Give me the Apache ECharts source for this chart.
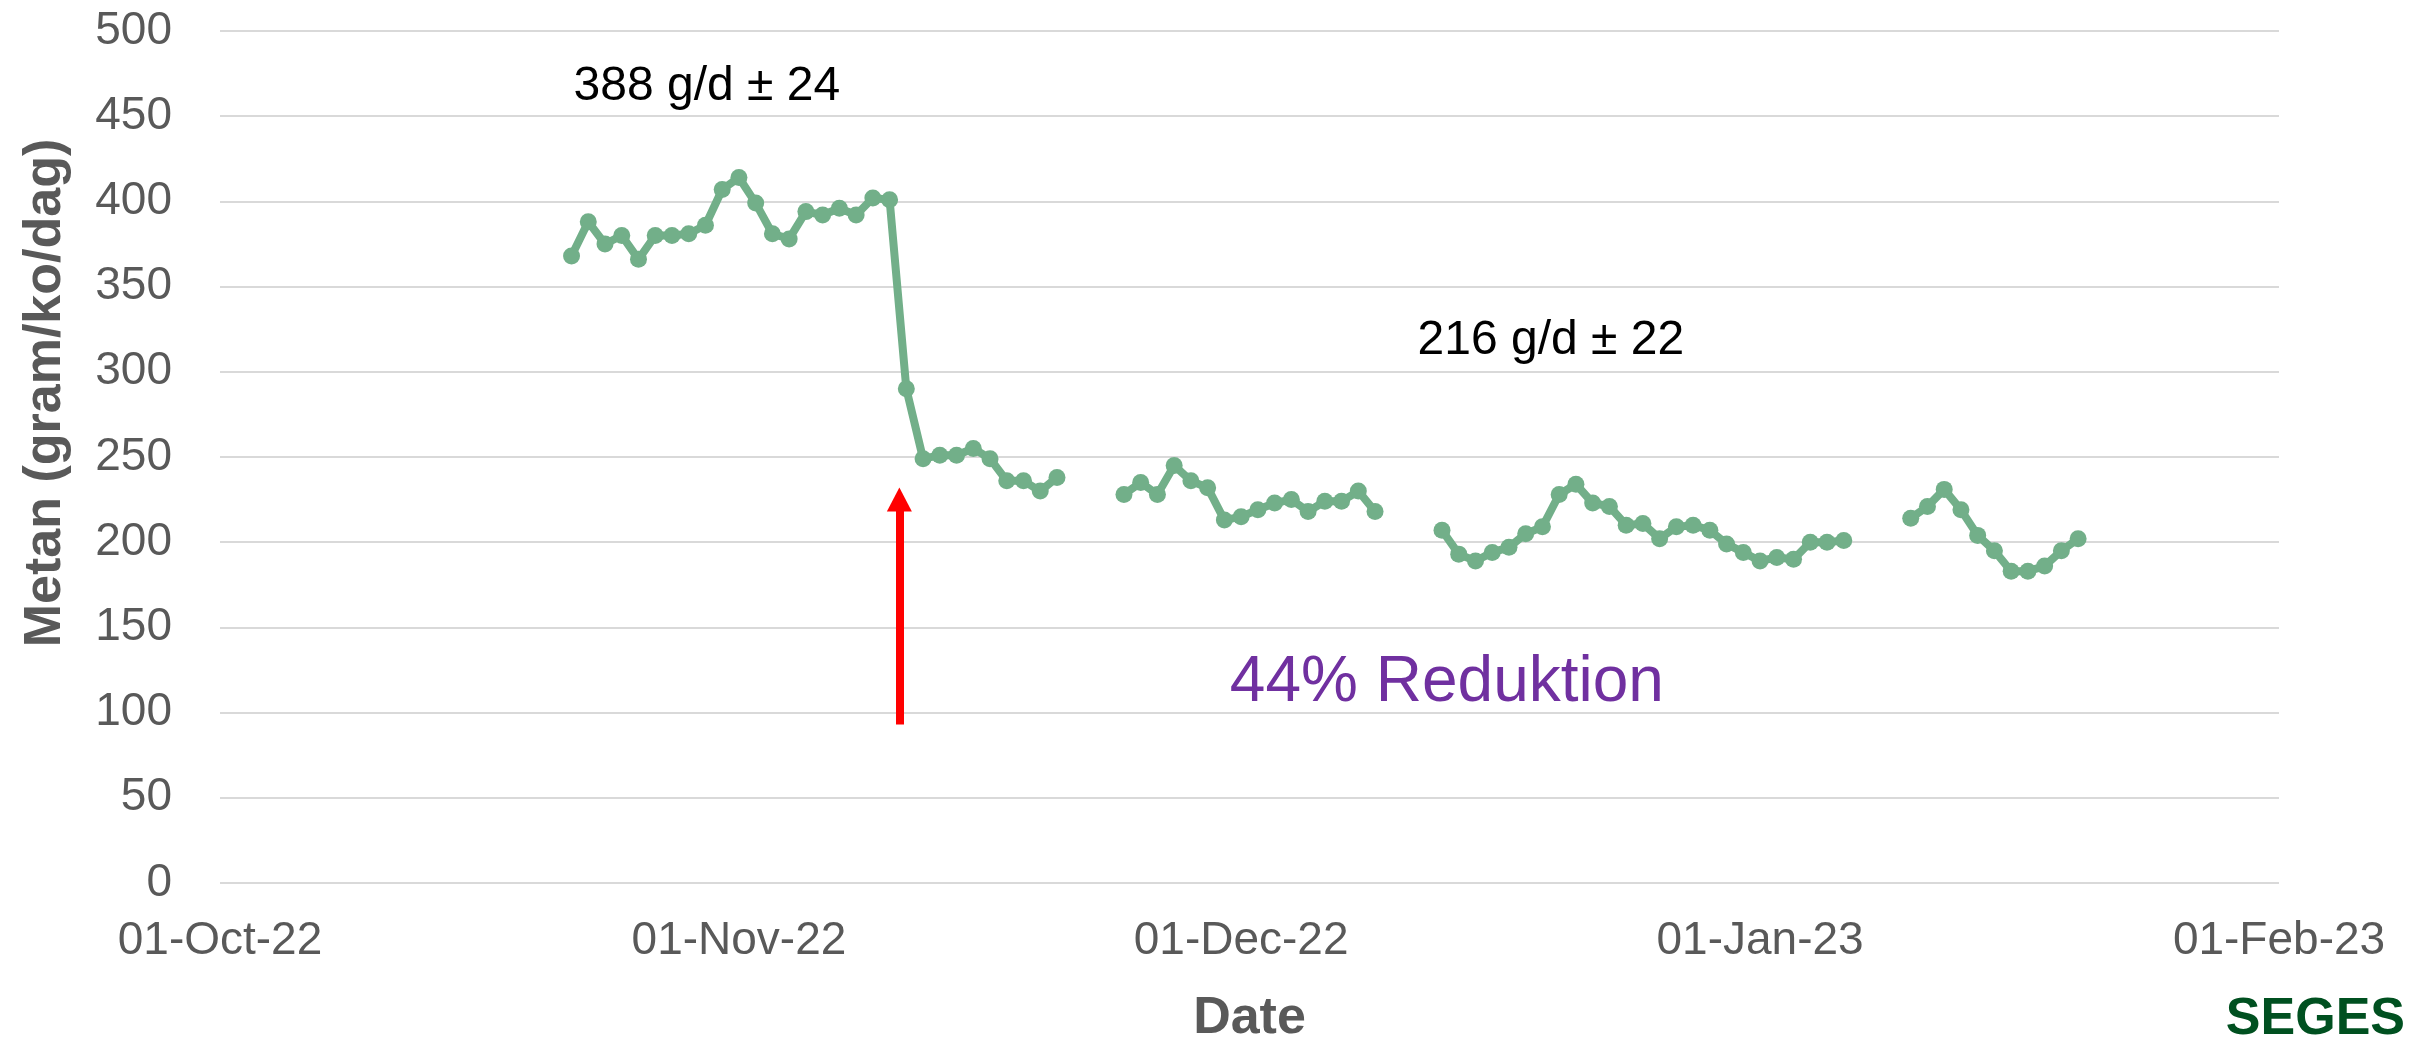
<!DOCTYPE html>
<html>
<head>
<meta charset="utf-8">
<title>Metan</title>
<script src="https://cdn.jsdelivr.net/npm/echarts@6/dist/echarts.min.js"></script>
<style>
    html, body { margin: 0; padding: 0; background: #fff; }
    #main { width: 2415px; height: 1039px; }
</style>
</head>
<body>
<div id="main"></div>
<script>
    var monthNames = ['Jan', 'Feb', 'Mar', 'Apr', 'May', 'Jun', 'Jul', 'Aug', 'Sep', 'Oct', 'Nov', 'Dec'];

    // daily measurements, four runs with a few missing days between them
    var seg1Start = '2022-10-22';
    var seg1Values = [368, 388, 375, 380, 366, 380, 380, 381, 386, 407, 414, 399, 381, 378, 394,
        392, 396, 392, 402, 401, 290, 249, 251, 251, 255, 249, 236, 236, 230, 238];
    var seg2Start = '2022-11-24';
    var seg2Values = [228, 235, 228, 245, 236, 232, 213, 215, 219, 223, 225, 218, 224, 224, 230, 218];
    var seg3Start = '2022-12-13';
    var seg3Values = [207, 193, 189, 194, 197, 205, 209, 228, 234, 223, 221, 210, 211, 202, 209,
        210, 207, 199, 194, 189, 191, 190, 200, 200, 201];
    var seg4Start = '2023-01-10';
    var seg4Values = [214, 221, 231, 219, 204, 195, 183, 183, 186, 195, 202];

    var noteTexts = ['388 g/d ± 24', '216 g/d ± 22', '44% Reduktion'];
    var notePos = [['2022-10-30 02:00', 467], ['2022-12-19 12:00', 318], ['2022-12-13 07:00', 117]];
    var arrowDate = '2022-11-10 14:00';
    var arrowFrom = 93;
    var arrowTo = 225;

    var green = '#72AF89';
    var grey = '#595959';
    var font = 'Liberation Sans';

    function toPoints(start, values) {
        var d0 = echarts.time.parse(start);
        var pts = [];
        for (var i = 0; i < values.length; i++) {
            var d = new Date(d0.getFullYear(), d0.getMonth(), d0.getDate() + i);
            pts.push([d.getTime(), values[i]]);
        }
        return pts;
    }

    function lineSeries(pts) {
        return {
            type: 'line',
            data: pts,
            symbol: 'circle',
            symbolSize: 17,
            showAllSymbol: true,
            itemStyle: {color: green},
            lineStyle: {color: green, width: 8},
            silent: true
        };
    }

    var series = [
        lineSeries(toPoints(seg1Start, seg1Values)),
        lineSeries(toPoints(seg2Start, seg2Values)),
        lineSeries(toPoints(seg3Start, seg3Values)),
        lineSeries(toPoints(seg4Start, seg4Values))
    ];

    series[0].markPoint = {
        silent: true,
        symbol: 'circle',
        symbolSize: 0,
        data: noteTexts.map(function (t, i) {
            var big = i === 2;
            return {
                coord: notePos[i],
                label: {
                    show: true,
                    position: 'inside',
                    formatter: t,
                    fontFamily: font,
                    fontSize: big ? 64 : 48,
                    color: big ? '#7030A0' : '#000000'
                }
            };
        })
    };
    series[0].markLine = {
        silent: true,
        symbol: ['none', 'triangle'],
        symbolSize: [25, 24],
        label: {show: false},
        lineStyle: {color: '#FF0000', width: 8, type: 'solid'},
        itemStyle: {color: '#FF0000'},
        data: [[{coord: [arrowDate, arrowFrom]}, {coord: [arrowDate, arrowTo]}]]
    };

    var myChart = echarts.init(document.getElementById('main'));
    var option = {
        animation: false,
        backgroundColor: '#ffffff',
        grid: {left: 220, right: 136, top: 31, bottom: 156, outerBoundsMode: 'none', containLabel: false},
        xAxis: {
            type: 'time',
            min: '2022-10-01',
            max: '2023-02-01',
            minInterval: 28 * 86400000,
            splitNumber: 4,
            name: 'Date',
            nameLocation: 'middle',
            nameGap: 110,
            nameTextStyle: {fontFamily: font, fontSize: 52, fontWeight: 'bold', color: grey},
            axisLine: {show: false},
            axisTick: {show: false},
            splitLine: {show: false},
            axisLabel: {
                fontFamily: font,
                fontSize: 46,
                color: grey,
                margin: 35,
                showMinLabel: true,
                showMaxLabel: true,
                formatter: function (val) {
                    var d = new Date(val);
                    var dd = ('0' + d.getDate()).slice(-2);
                    var yy = ('' + d.getFullYear()).slice(-2);
                    return dd + '-' + monthNames[d.getMonth()] + '-' + yy;
                }
            }
        },
        yAxis: {
            type: 'value',
            min: 0,
            max: 500,
            interval: 50,
            name: 'Metan (gram/ko/dag)',
            nameLocation: 'middle',
            nameGap: 148,
            nameTextStyle: {fontFamily: font, fontSize: 52, fontWeight: 'bold', color: grey, padding: [0, 0, 0, 128]},
            axisLine: {show: false},
            axisTick: {show: false},
            axisLabel: {fontFamily: font, fontSize: 46, color: grey, margin: 48},
            splitLine: {lineStyle: {color: '#D9D9D9', width: 2}}
        },
        graphic: [{
            type: 'text',
            right: 10,
            top: 994,
            style: {text: 'SEGES', fontFamily: font, fontSize: 52, fontWeight: 'bold', fill: '#005020'}
        }],
        series: series
    };
    myChart.setOption(option);
</script>
</body>
</html>
